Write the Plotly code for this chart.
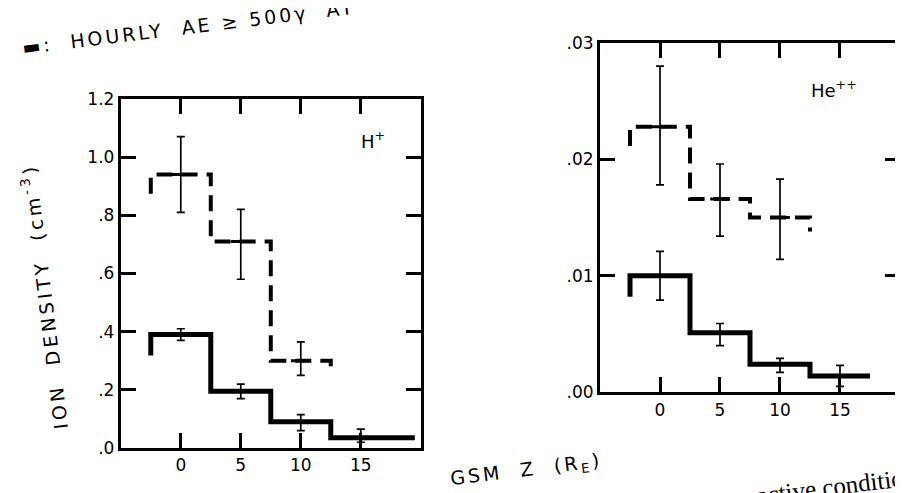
import plotly.graph_objects as go

# GSM Z bin centres / edges (R_E)
z_centres = [0, 5, 10, 15]
edges_quiet_h = [-2.5, 2.5, 7.5, 12.5, 19.5]
edges_quiet_he = [-2.5, 2.5, 7.5, 12.5, 17.5]
edges_active = [-2.5, 2.5, 7.5, 12.5]

# H+ density (cm^-3): solid = quiet, dashed = hourly AE >= 500 gamma
h_quiet = [0.39, 0.195, 0.09, 0.035]
h_quiet_up = [0.02, 0.025, 0.025, 0.03]
h_quiet_dn = [0.02, 0.025, 0.03, 0.015]
h_active = [0.94, 0.71, 0.30]
h_active_up = [0.13, 0.11, 0.065]
h_active_dn = [0.13, 0.13, 0.05]

# He++ density (cm^-3)
he_quiet = [0.0100, 0.0051, 0.0024, 0.0014]
he_quiet_up = [0.0021, 0.0008, 0.0005, 0.0009]
he_quiet_dn = [0.0021, 0.0011, 0.0007, 0.0009]
he_active = [0.0228, 0.0166, 0.0150]
he_active_up = [0.0052, 0.0030, 0.0033]
he_active_dn = [0.0050, 0.0032, 0.0036]

h_ticks = [0, 0.2, 0.4, 0.6, 0.8, 1.0, 1.2]
h_ticktext = [".0", ".2", ".4", ".6", ".8", "1.0", "1.2"]
he_ticks = [0, 0.01, 0.02, 0.03]
he_ticktext = [".00", ".01", ".02", ".03"]
z_ticks = [0, 5, 10, 15]

FONT = "DejaVu Sans"


def step_xy(edges, vals, tail, end_tail=None):
    # histogram outline with a short vertical stub at the start (and optionally the end)
    xs = [edges[0]]
    ys = [vals[0] - tail]
    for i, v in enumerate(vals):
        xs += [edges[i], edges[i + 1]]
        ys += [v, v]
    if end_tail is not None:
        xs.append(edges[-1])
        ys.append(vals[-1] - end_tail)
    return xs, ys


fig = go.Figure()


def add_panel(xa, ya, q_edges, q, q_up, q_dn, a, a_up, a_dn, ymax):
    qx, qy = step_xy(q_edges, q, 0.06 * ymax)
    fig.add_trace(go.Scatter(x=qx, y=qy, mode="lines", xaxis=xa, yaxis=ya,
                             line=dict(color="black", width=5), showlegend=False))
    ax_, ay_ = step_xy(edges_active, a, 0.055 * ymax, 0.04 * ymax)
    fig.add_trace(go.Scatter(x=ax_, y=ay_, mode="lines", xaxis=xa, yaxis=ya,
                             line=dict(color="black", width=4, dash="16px,9px"),
                             showlegend=False))
    for vals, up, dn in [(q, q_up, q_dn), (a, a_up, a_dn)]:
        fig.add_trace(go.Scatter(
            x=z_centres[:len(vals)], y=vals, mode="markers", xaxis=xa, yaxis=ya,
            marker=dict(symbol="line-ew", size=14, color="black",
                        line=dict(color="black", width=3)),
            error_y=dict(type="data", array=up, arrayminus=dn, color="black",
                         thickness=1.7, width=4),
            showlegend=False))


add_panel("x", "y", edges_quiet_h, h_quiet, h_quiet_up, h_quiet_dn,
          h_active, h_active_up, h_active_dn, 1.2)
add_panel("x2", "y2", edges_quiet_he, he_quiet, he_quiet_up, he_quiet_dn,
          he_active, he_active_up, he_active_dn, 0.03)

axis_style = dict(showline=True, linecolor="black", linewidth=3, mirror="ticks",
                  ticks="inside", ticklen=15, tickwidth=2.5, tickcolor="black",
                  showgrid=False, zeroline=False,
                  tickfont=dict(family=FONT, size=17, color="black"))

fig.update_layout(
    width=903, height=493,
    margin=dict(l=0, r=0, t=0, b=0),
    paper_bgcolor="white", plot_bgcolor="white",
    xaxis=dict(domain=[0.1249, 0.4571], anchor="y", range=[-5, 20],
               tickvals=z_ticks, **axis_style),
    yaxis=dict(domain=[0.0908, 0.8291], anchor="x", range=[0, 1.2],
               tickvals=h_ticks, ticktext=h_ticktext, **axis_style),
    xaxis2=dict(domain=[0.6556, 0.9878], anchor="y2", range=[-5, 20],
                tickvals=z_ticks, **axis_style),
    yaxis2=dict(domain=[0.2089, 0.9473], anchor="x2", range=[0, 0.03],
                tickvals=he_ticks, ticktext=he_ticktext, **axis_style),
)

notes = [
    dict(x=16, y=1.06, xref="x", yref="y", text="H<sup>+</sup>", size=18),
    dict(x=14.5, y=0.026, xref="x2", yref="y2", text="He<sup>++</sup>", size=18),
    dict(x=36 / 903, y=1 - 290 / 493, textangle=-97, size=19, ls=3.5,
         text="ION  DENSITY  (cm<sup>-3</sup>)"),
    dict(x=518 / 903, y=1 - 472 / 493, textangle=-7, size=19, ls=3,
         text="GSM  Z  (R<sub>E</sub>)"),
    dict(x=180 / 903, y=1 - 9 / 493, textangle=-7, size=19, ls=3,
         text="▬:  HOURLY  AE ≥ 500γ  AT"),
    dict(x=833 / 903, y=1 - 487 / 493, textangle=-7, size=25,
         text="active conditions", family="Liberation Serif"),
]
for n in notes:
    txt = n["text"]
    if "ls" in n:
        txt = '<span style="letter-spacing:%spx">%s</span>' % (n["ls"], txt)
    fig.add_annotation(
        x=n["x"], y=n["y"], xref=n.get("xref", "paper"), yref=n.get("yref", "paper"),
        xanchor="center", yanchor="middle", showarrow=False,
        textangle=n.get("textangle", 0), text=txt,
        font=dict(family=n.get("family", FONT), size=n["size"], color="black"))

fig.write_html("out.html")
